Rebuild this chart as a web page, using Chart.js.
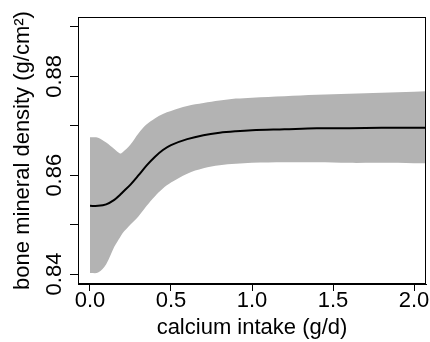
<!DOCTYPE html>
<html>
<head>
<meta charset="utf-8">
<script src="https://cdn.jsdelivr.net/npm/chart.js@4/dist/chart.umd.min.js"></script>
<style>
html,body{margin:0;padding:0;background:#fff;}
canvas{display:block;}
</style>
</head>
<body>
<canvas id="c" width="430" height="342"></canvas>
<script>
// Data
const intake = [0, 0.05, 0.1, 0.15, 0.185, 0.2, 0.25, 0.3, 0.35, 0.4, 0.45, 0.5, 0.6, 0.7, 0.8, 0.9, 1.0, 1.2, 1.4, 1.6, 1.8, 2.0, 2.074];
const bmdFit = [0.8538, 0.8538, 0.8541, 0.8550, 0.8560, 0.8565, 0.8581, 0.8600, 0.8620, 0.8637, 0.8651, 0.8661, 0.8673, 0.8681, 0.8686, 0.8689, 0.8691, 0.8693, 0.8695, 0.8695, 0.8696, 0.8696, 0.8696];
const bmdUpper = [0.8677, 0.8676, 0.8666, 0.8653, 0.8644, 0.8646, 0.8662, 0.8685, 0.8703, 0.8715, 0.8724, 0.8730, 0.8740, 0.8746, 0.8751, 0.8755, 0.8757, 0.8760, 0.8763, 0.8765, 0.8767, 0.8769, 0.8770];
const bmdLower = [0.8402, 0.8403, 0.8420, 0.8455, 0.8474, 0.8482, 0.8500, 0.8517, 0.8538, 0.8557, 0.8573, 0.8585, 0.8603, 0.8614, 0.8620, 0.8623, 0.8625, 0.8626, 0.8626, 0.8625, 0.8625, 0.8624, 0.8624];
const xTicks = [0, 0.5, 1.0, 1.5, 2.0];
const yTicks = [0.84, 0.85, 0.86, 0.87, 0.88, 0.89];
const yTickLabels = ['0.84', '', '0.86', '', '0.88', ''];
const xTitle = 'calcium intake (g/d)';
const yTitle = 'bone mineral density (g/cm²)';

const FONT = {family: '"Liberation Sans", Arial, sans-serif', size: 22};
const pts = a => intake.map((x, i) => ({x: x, y: a[i]}));

const framePlugin = {
  id: 'frame',
  afterDraw(chart) {
    const ctx = chart.ctx, a = chart.chartArea, ys = chart.scales.y;
    ctx.save();
    ctx.strokeStyle = '#000';
    ctx.lineWidth = 1;
    ctx.strokeRect(Math.round(a.left) + 0.5, Math.round(a.top) + 0.5, Math.round(a.right - a.left) - 1, Math.round(a.bottom - a.top) - 1);
    ctx.fillStyle = '#000';
    ctx.font = FONT.size + 'px ' + FONT.family;
    ctx.textAlign = 'center';
    ctx.textBaseline = 'alphabetic';
    yTicks.forEach((v, i) => {
      if (!yTickLabels[i]) return;
      const py = ys.getPixelForValue(v);
      ctx.save();
      ctx.translate(61, py);
      ctx.rotate(-Math.PI / 2);
      ctx.fillText(yTickLabels[i], 0, 0);
      ctx.restore();
    });
    ctx.restore();
  }
};

new Chart(document.getElementById('c'), {
  type: 'line',
  data: {
    datasets: [
      {data: pts(bmdFit), borderColor: '#000', borderWidth: 2, pointRadius: 0, fill: false, tension: 0.35},
      {data: pts(bmdUpper), borderWidth: 0, borderColor: 'rgba(0,0,0,0)', backgroundColor: '#b3b3b3', pointRadius: 0, fill: '+1', tension: 0.35},
      {data: pts(bmdLower), borderWidth: 0, borderColor: 'rgba(0,0,0,0)', backgroundColor: '#b3b3b3', pointRadius: 0, fill: false, tension: 0.35}
    ]
  },
  options: {
    responsive: false,
    animation: false,
    devicePixelRatio: 1,
    layout: {padding: {top: 17, right: 4, left: 0, bottom: 0}},
    plugins: {legend: {display: false}, tooltip: {enabled: false}},
    scales: {
      x: {
        type: 'linear', min: -0.074, max: 2.074,
        afterBuildTicks: s => { s.ticks = xTicks.map(v => ({value: v})); },
        afterFit: s => { s.height = 58; },
        grid: {drawOnChartArea: false, drawTicks: true, tickLength: 7, color: '#000', tickColor: '#000'},
        border: {display: true, color: '#000', width: 1},
        ticks: {font: FONT, color: '#000', padding: -3, autoSkip: false, maxRotation: 0, minRotation: 0, callback: v => v.toFixed(1)},
        title: {display: true, text: xTitle, font: FONT, color: '#000', padding: {top: 0, bottom: 1}}
      },
      y: {
        type: 'linear', min: 0.83798, max: 0.89202,
        afterBuildTicks: s => { s.ticks = yTicks.map(v => ({value: v})); },
        afterFit: s => { s.width = 78; },
        grid: {drawOnChartArea: false, drawTicks: true, tickLength: 8, color: '#000', tickColor: '#000'},
        border: {display: true, color: '#000', width: 1},
        ticks: {display: false},
        title: {display: true, text: yTitle, font: FONT, color: '#000', padding: {top: 10, bottom: 0}}
      }
    }
  },
  plugins: [framePlugin]
});
</script>
</body>
</html>
